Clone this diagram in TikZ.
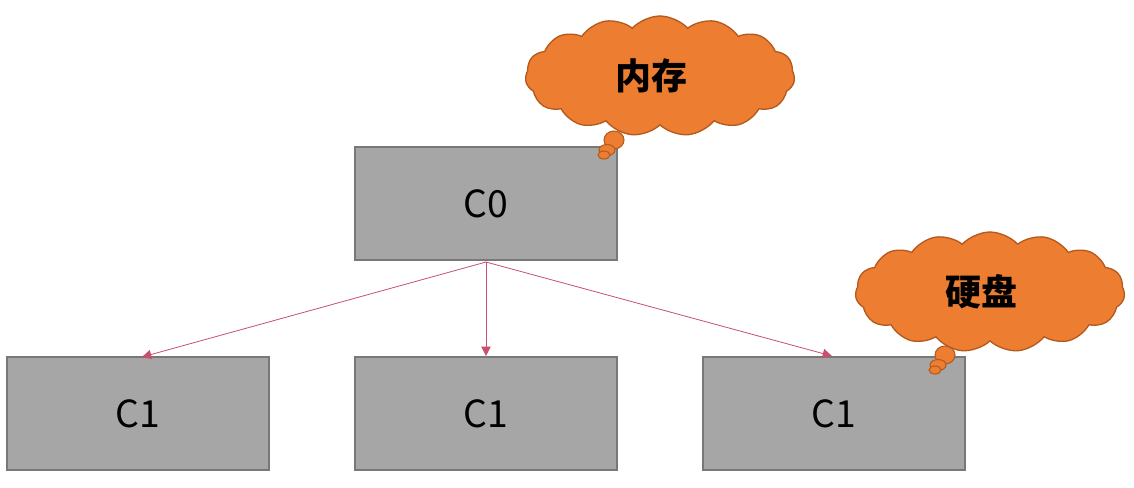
\documentclass[tikz,border=0pt]{standalone}
\usepackage{fontspec}
\setmainfont{Noto Sans CJK SC}
\newfontfamily\cjk{Noto Sans CJK SC}
\usetikzlibrary{shapes.symbols,arrows.meta}
\definecolor{boxgray}{RGB}{166,166,166}
\definecolor{boxedge}{RGB}{120,120,120}
\definecolor{cloudor}{RGB}{237,125,49}
\definecolor{cloudedge}{RGB}{180,90,30}
\definecolor{arrowc}{RGB}{200,80,110}
\begin{document}
\begin{tikzpicture}[x=0.75pt,y=-0.75pt,
  cbox/.style={draw=boxedge,line width=1pt,fill=boxgray,minimum width=196.5pt,minimum height=84.75pt,inner sep=0pt,font=\fontsize{28}{30}\selectfont},
  thought/.style={cloud,cloud puffs=15,cloud puff arc=95,aspect=2.3,draw=cloudedge,line width=1pt,fill=cloudor,minimum width=202pt,minimum height=90pt,inner sep=0pt},
  thoughttext/.style={inner sep=0pt,font=\cjk\bfseries\fontsize{27}{29}\selectfont},
  bub/.style={draw=cloudedge,line width=0.8pt,fill=cloudor},
  link/.style={draw=arrowc,line width=0.6pt,-{Triangle[length=7pt,width=7pt]}}]
\useasboundingbox[fill=white] (0,0) rectangle (1134,487);
\node[cbox] (c0) at (486,203.5) {C0};
\node[cbox] (c1a) at (138,413.5) {C1};
\node[cbox] (c1b) at (486,413.5) {C1};
\node[cbox] (c1c) at (834,413.5) {C1};
\coordinate (c0b) at (486,262);
\coordinate (ta) at (142,357);
\coordinate (tb) at (486,356);
\coordinate (tc) at (832,356);
\draw[link] (c0b) -- (ta);
\draw[link] (c0b) -- (tb);
\draw[link] (c0b) -- (tc);
% tails
\draw[bub] (614,140) ellipse (10 and 9);
\draw[bub] (607,150) ellipse (8 and 5.5);
\draw[bub] (604,155) ellipse (6 and 4);
\draw[bub] (945,355) ellipse (10 and 9);
\draw[bub] (938,365) ellipse (8 and 5.5);
\draw[bub] (935,370) ellipse (6 and 4);
\node[thought] (m1) at (660,76) {};
\node[thought] (m2) at (990,292) {};
\node[thoughttext] (t1) at (651,76) {内存};
\node[thoughttext] (t2) at (981,292) {硬盘};
\end{tikzpicture}
\end{document}
